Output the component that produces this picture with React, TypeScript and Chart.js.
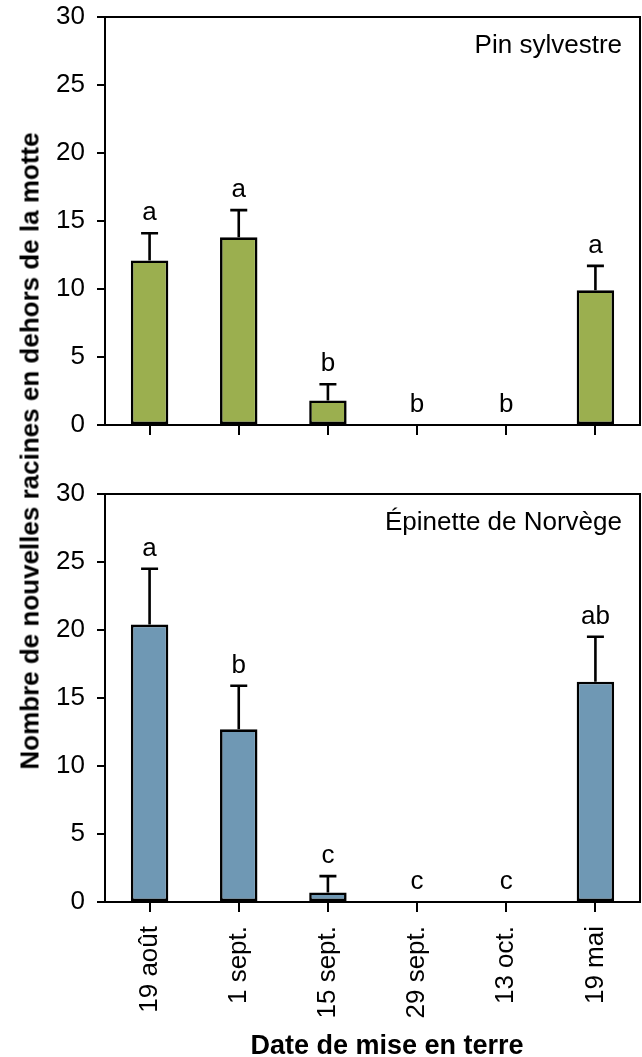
import React, { useEffect, useRef } from "react";
import { Chart, registerables } from "chart.js";

Chart.register(...registerables);

const categories = ["19 août", "1 sept.", "15 sept.", "29 sept.", "13 oct.", "19 mai"];
const yTicks = [0, 5, 10, 15, 20, 25, 30];

const pinMeans = [12.1, 13.8, 1.8, 0, 0, 9.9];
const pinErrors = [2.0, 2.0, 1.2, 0, 0, 1.8];
const pinLetters = ["a", "a", "b", "b", "b", "a"];

const epiMeans = [20.4, 12.7, 0.7, 0, 0, 16.2];
const epiErrors = [4.1, 3.2, 1.2, 0, 0, 3.3];
const epiLetters = ["a", "b", "c", "c", "c", "ab"];

const FONT = "'Liberation Sans', Arial, sans-serif";

function makePlugin(errors: number[], letters: string[], label: string, xTitle: string | null) {
  return {
    id: "extras",
    afterDatasetsDraw(chart: any) {
      const ctx = chart.ctx;
      const area = chart.chartArea;
      const ys = chart.scales.y;
      const meta = chart.getDatasetMeta(0);
      const values = chart.data.datasets[0].data as number[];
      ctx.save();
      // box top/right
      ctx.strokeStyle = "#000";
      ctx.lineWidth = 2;
      ctx.beginPath();
      ctx.moveTo(area.left - 8, area.top);
      ctx.lineTo(area.right, area.top);
      ctx.lineTo(area.right, area.bottom);
      ctx.stroke();
      // error bars and letters
      ctx.lineWidth = 2.6;
      meta.data.forEach((bar: any, i: number) => {
        const v = values[i];
        const e = errors[i];
        const x = bar.x;
        const yv = ys.getPixelForValue(v);
        const ye = ys.getPixelForValue(v + e);
        if (e > 0) {
          ctx.beginPath();
          ctx.moveTo(x, yv);
          ctx.lineTo(x, ye);
          ctx.moveTo(x - 8.5, ye);
          ctx.lineTo(x + 8.5, ye);
          ctx.stroke();
        }
        ctx.fillStyle = "#000";
        ctx.font = `26px ${FONT}`;
        ctx.textAlign = "center";
        ctx.textBaseline = "alphabetic";
        ctx.fillText(letters[i], x, ye - 13);
      });
      // panel label
      ctx.font = `26px ${FONT}`;
      ctx.textAlign = "right";
      ctx.textBaseline = "alphabetic";
      ctx.fillStyle = "#000";
      ctx.fillText(label, 622, area.top + 36);
      if (xTitle) {
        ctx.font = `bold 27px ${FONT}`;
        ctx.textAlign = "center";
        ctx.fillText(xTitle, 387, chart.height - 3);
      }
      ctx.restore();
    },
  };
}

function makeConfig(
  values: number[],
  errors: number[],
  letters: string[],
  color: string,
  label: string,
  bottom: boolean,
  canvasHeight: number,
  padTop: number,
  areaBottom: number
) {
  return {
    type: "bar" as const,
    data: {
      labels: categories,
      datasets: [
        {
          data: values,
          backgroundColor: color,
          borderColor: "#000",
          borderWidth: 2.6,
          borderSkipped: false,
          barPercentage: 0.42,
          categoryPercentage: 1,
        },
      ],
    },
    options: {
      responsive: false,
      animation: false,
      devicePixelRatio: 1,
      layout: { padding: { top: padTop, right: 2, left: 0, bottom: 0 } },
      plugins: { legend: { display: false }, tooltip: { enabled: false } },
      scales: {
        x: {
          offset: true,
          grid: {
            offset: false,
            drawOnChartArea: false,
            drawTicks: true,
            tickLength: 10,
            color: "#000",
            lineWidth: 2,
          },
          border: { display: true, color: "#000", width: 2 },
          ticks: {
            display: bottom,
            color: "#000",
            font: { size: 26, family: FONT },
            minRotation: 90,
            maxRotation: 90,
            padding: 14,
            autoSkip: false,
          },
          afterFit: (s: any) => {
            s.height = canvasHeight - areaBottom;
          },
        },
        y: {
          min: 0,
          max: 30,
          afterBuildTicks: (s: any) => {
            s.ticks = yTicks.map((v) => ({ value: v }));
          },
          grid: {
            drawOnChartArea: false,
            drawTicks: true,
            tickLength: 8,
            color: "#000",
            lineWidth: 2,
          },
          border: { display: true, color: "#000", width: 2 },
          ticks: {
            color: "#000",
            font: { size: 26, family: FONT },
            padding: 12,
          },
          afterFit: (s: any) => {
            s.width = 105;
          },
        },
      },
    },
    plugins: [makePlugin(errors, letters, label, bottom ? "Date de mise en terre" : null)],
  };
}

export default function App() {
  const topRef = useRef<HTMLCanvasElement>(null);
  const botRef = useRef<HTMLCanvasElement>(null);

  useEffect(() => {
    document.body.style.margin = "0";
    const c1 = new Chart(
      topRef.current!,
      makeConfig(pinMeans, pinErrors, pinLetters, "#9BAF4F", "Pin sylvestre", false, 480, 37, 445) as any
    );
    const c2 = new Chart(
      botRef.current!,
      makeConfig(epiMeans, epiErrors, epiLetters, "#6F98B4", "Épinette de Norvège", true, 597, 34, 442) as any
    );
    return () => {
      c1.destroy();
      c2.destroy();
    };
  }, []);

  return (
    <div style={{ position: "fixed", left: 0, top: 0, width: 642, height: 1057, background: "#fff", overflow: "hidden" }}>
      <canvas ref={topRef} width={642} height={480} style={{ position: "absolute", left: 0, top: -20, width: 642, height: 480 }} />
      <canvas ref={botRef} width={642} height={597} style={{ position: "absolute", left: 0, top: 460, width: 642, height: 597 }} />
      <div
        style={{
          position: "absolute",
          left: 30,
          top: 451,
          transform: "translate(-50%, -50%) rotate(-90deg)",
          whiteSpace: "nowrap",
          fontFamily: "'Liberation Sans', Arial, sans-serif",
          fontWeight: "bold",
          fontSize: 26,
          color: "#000",
        }}
      >
        Nombre de nouvelles racines en dehors de la motte
      </div>
    </div>
  );
}
